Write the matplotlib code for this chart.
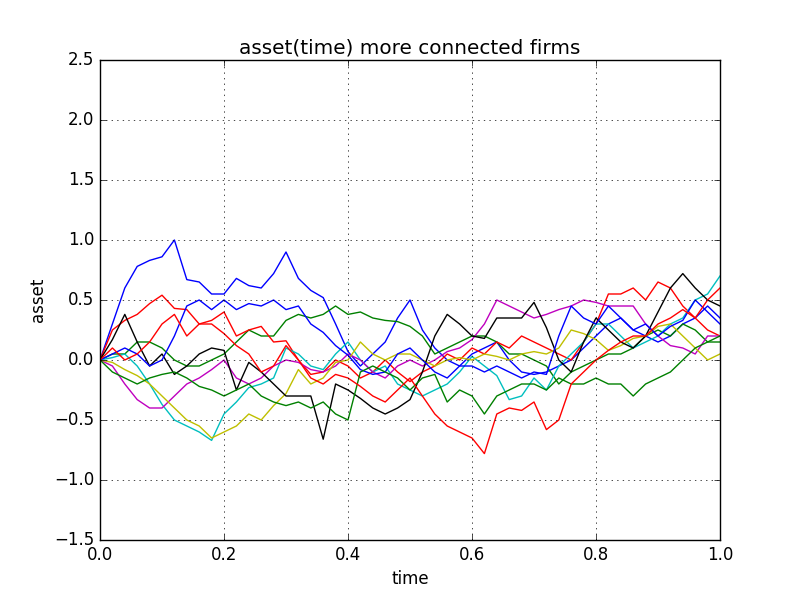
import numpy as np
import matplotlib
matplotlib.use("Agg")
import matplotlib.pyplot as plt

# time grid, step 0.02
time = np.linspace(0.0, 1.0, 51)

# asset values, one list per firm
blue1 = [0.0, 0.3, 0.6, 0.78, 0.83, 0.86, 1.0, 0.67, 0.65, 0.55,
         0.55, 0.68, 0.62, 0.6, 0.72, 0.9, 0.68, 0.58, 0.52, 0.3,
         0.07, -0.05, 0.05, 0.15, 0.35, 0.5, 0.25, 0.1, 0.0, -0.05,
         0.05, 0.1, 0.15, 0.0, -0.1, -0.12, -0.1, -0.05, 0.0, 0.1,
         0.2, 0.3, 0.35, 0.25, 0.2, 0.15, 0.2, 0.3, 0.35, 0.45, 0.35]
green1 = [0.0, 0.05, 0.05, 0.15, 0.15, 0.1, 0.0, -0.05, -0.05, 0.0,
          0.05, 0.15, 0.25, 0.2, 0.2, 0.33, 0.38, 0.35, 0.38, 0.45,
          0.38, 0.4, 0.35, 0.33, 0.32, 0.28, 0.2, 0.05, 0.1, 0.15,
          0.2, 0.2, 0.15, 0.05, 0.05, 0.0, -0.05, -0.2, -0.1, -0.05,
          0.0, 0.05, 0.05, 0.1, 0.2, 0.25, 0.2, 0.3, 0.25, 0.15, 0.15]
red1 = [0.0, 0.25, 0.33, 0.38, 0.47, 0.54, 0.43, 0.42, 0.3, 0.33,
        0.4, 0.2, 0.25, 0.28, 0.15, 0.16, 0.0, -0.12, -0.1, 0.0,
        -0.05, -0.15, -0.1, 0.0, -0.1, -0.18, -0.1, -0.05, 0.05, 0.0,
        0.1, 0.05, 0.15, 0.1, 0.2, 0.15, 0.1, 0.05, 0.0, 0.15,
        0.3, 0.55, 0.55, 0.6, 0.5, 0.65, 0.6, 0.45, 0.35, 0.25, 0.2]
cyan = [0.0, 0.02, 0.05, -0.05, -0.2, -0.37, -0.5, -0.55, -0.6, -0.67,
        -0.45, -0.35, -0.23, -0.2, -0.15, 0.1, 0.05, -0.05, -0.08, 0.05,
        0.15, 0.0, -0.1, -0.05, -0.2, -0.25, -0.3, -0.25, -0.2, -0.1,
        0.03, -0.05, -0.13, -0.33, -0.3, -0.15, -0.25, -0.05, 0.05, 0.15,
        0.3, 0.3, 0.2, 0.1, 0.15, 0.2, 0.3, 0.35, 0.5, 0.55, 0.7]
magenta = [0.0, -0.05, -0.2, -0.33, -0.4, -0.4, -0.3, -0.2, -0.15, -0.08,
           0.0, -0.15, -0.2, -0.15, -0.05, 0.0, -0.02, -0.08, -0.1, -0.05,
           0.05, 0.0, -0.1, -0.15, -0.05, 0.0, -0.05, 0.0, 0.07, 0.1,
           0.17, 0.3, 0.5, 0.45, 0.4, 0.35, 0.38, 0.42, 0.45, 0.5,
           0.48, 0.45, 0.45, 0.45, 0.3, 0.2, 0.12, 0.1, 0.05, 0.2, 0.2]
yellow = [0.0, -0.02, -0.08, -0.13, -0.2, -0.3, -0.4, -0.5, -0.55, -0.65,
          -0.6, -0.55, -0.45, -0.5, -0.38, -0.28, -0.08, -0.2, -0.15, -0.02,
          0.0, 0.15, 0.05, 0.0, 0.05, 0.05, 0.0, -0.05, 0.0, 0.02,
          0.0, 0.05, 0.03, 0.0, 0.05, 0.07, 0.05, 0.1, 0.25, 0.22,
          0.17, 0.08, 0.12, 0.18, 0.2, 0.28, 0.3, 0.2, 0.1, 0.0, 0.05]
black = [0.0, 0.17, 0.38, 0.15, -0.05, 0.05, -0.12, -0.05, 0.05, 0.1,
         0.08, -0.25, -0.02, -0.1, -0.2, -0.3, -0.3, -0.3, -0.66, -0.2,
         -0.25, -0.32, -0.4, -0.45, -0.4, -0.33, -0.1, 0.2, 0.38, 0.3,
         0.2, 0.18, 0.35, 0.35, 0.35, 0.48, 0.27, 0.0, -0.1, 0.15,
         0.35, 0.25, 0.15, 0.1, 0.2, 0.4, 0.6, 0.72, 0.6, 0.5, 0.45]
blue2 = [0.0, 0.05, 0.1, 0.05, -0.05, 0.0, 0.2, 0.45, 0.5, 0.42,
         0.5, 0.42, 0.47, 0.45, 0.5, 0.42, 0.45, 0.3, 0.23, 0.12,
         0.04, -0.08, -0.12, -0.1, 0.05, 0.1, 0.0, -0.1, -0.15, -0.05,
         -0.05, -0.1, -0.05, -0.1, -0.15, -0.1, -0.12, 0.2, 0.45, 0.35,
         0.3, 0.45, 0.35, 0.25, 0.3, 0.2, 0.28, 0.33, 0.5, 0.4, 0.3]
green2 = [0.0, -0.1, -0.15, -0.2, -0.15, -0.12, -0.1, -0.15, -0.22, -0.25,
          -0.3, -0.25, -0.2, -0.3, -0.35, -0.38, -0.35, -0.4, -0.35, -0.45,
          -0.5, -0.1, -0.05, -0.1, -0.15, -0.25, -0.15, -0.12, -0.35, -0.25,
          -0.3, -0.45, -0.3, -0.25, -0.2, -0.2, -0.25, -0.15, -0.2, -0.2,
          -0.15, -0.2, -0.2, -0.3, -0.2, -0.15, -0.1, 0.0, 0.1, 0.15, 0.2]
red2 = [0.0, 0.1, 0.0, 0.05, 0.15, 0.3, 0.38, 0.2, 0.3, 0.3,
        0.22, 0.12, 0.05, -0.1, -0.05, 0.12, 0.0, -0.15, -0.2, -0.12,
        -0.15, -0.22, -0.3, -0.35, -0.25, -0.15, -0.3, -0.45, -0.55, -0.6,
        -0.65, -0.78, -0.45, -0.4, -0.42, -0.35, -0.58, -0.5, -0.2, -0.1,
        0.0, 0.08, 0.15, 0.2, 0.2, 0.3, 0.35, 0.42, 0.35, 0.5, 0.6]

firms = [blue1, green1, red1, cyan, magenta, yellow, black, blue2, green2, red2]

plt.style.use("classic")
fig, ax = plt.subplots(figsize=(8, 6), dpi=100)
fig.patch.set_facecolor("white")

for asset in firms:
    ax.plot(time, asset)

ax.set_xlim(0, 1)
ax.set_ylim(-1.5, 2.5)
ax.grid(True)
ax.set_title("asset(time) more connected firms")
ax.set_xlabel("time")
ax.set_ylabel("asset")

fig.savefig("out.png", facecolor="white")
